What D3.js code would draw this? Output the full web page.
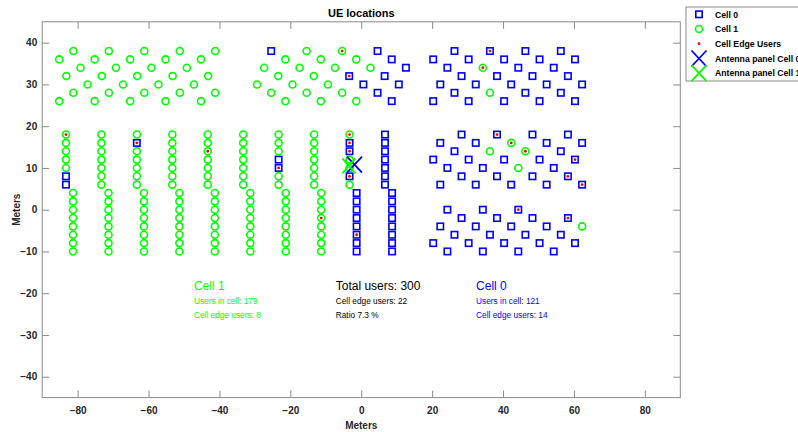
<!DOCTYPE html>
<html><head><meta charset="utf-8">
<script src="https://cdn.jsdelivr.net/npm/d3@7/dist/d3.min.js"></script>
<style>
body{margin:0;background:#fff;overflow:hidden;}
svg{display:block;font-family:"Liberation Sans",Arial,Helvetica,sans-serif;}
</style>
</head><body>
<svg id="chart" width="798" height="432"></svg>
<script>
// ---- DATA ----
const xTicks = [-80, -60, -40, -20, 0, 20, 40, 60, 80];
const yTicks = [-40, -30, -20, -10, 0, 10, 20, 30, 40];

// Cell 0 users (blue squares)
const cell0 = [
  // top middle cluster
  [-25.4,38],[4.6,38],[8.6,36],[12.6,34],[-3.4,32],[6.6,32],[0.6,30],[10.6,30],[4.6,28],[8.6,26],
  // top right cluster
  [26.3,38],[36.3,38],[46.3,38],[56.3,38],
  [20.3,36],[30.3,36],[40.3,36],[50.3,36],[60.3,36],
  [24.3,34],[44.3,34],[54.3,34],
  [28.3,32],[38.3,32],[48.3,32],[58.3,32],
  [22.3,30],[32.3,30],[42.3,30],[52.3,30],[62.3,30],
  [26.3,28],[46.3,28],[56.3,28],
  [20.3,26],[30.3,26],[40.3,26],[50.3,26],[60.3,26],
  // right upper block
  [28.3,18],[38.3,18],[48.3,18],[58.3,18],
  [22.3,16],[32.3,16],[52.3,16],[62.3,16],
  [26.3,14],[56.3,14],
  [20.3,12],[30.3,12],[40.3,12],[50.3,12],[60.3,12],
  [24.3,10],[34.3,10],[54.3,10],
  [28.3,8],[38.3,8],[48.3,8],[58.3,8],
  [22.3,6],[32.3,6],[42.3,6],[52.3,6],[62.3,6],
  // right lower block
  [24.3,0],[34.3,0],[44.3,0],
  [28.3,-2],[38.3,-2],[48.3,-2],[58.3,-2],
  [22.3,-4],[32.3,-4],[42.3,-4],[52.3,-4],
  [26.3,-6],[36.3,-6],[46.3,-6],[56.3,-6],
  [20.3,-8],[30.3,-8],[40.3,-8],[50.3,-8],[60.3,-8],
  [24.3,-10],[34.3,-10],[44.3,-10],[54.3,-10],
  // columns
  [-83.3,8],[-83.3,6],[-63.3,16],[-23.3,12],[-23.3,10],
  [-3.3,16],[-3.3,14],[-3.3,8],
  [-1.3,4],[-1.3,2],[-1.3,0],[-1.3,-2],[-1.3,-4],[-1.3,-6],[-1.3,-8],[-1.3,-10],
  [6.7,18],[6.7,16],[6.7,14],[6.7,12],[6.7,10],[6.7,8],[6.7,6],
  [8.7,4],[8.7,2],[8.7,0],[8.7,-2],[8.7,-4],[8.7,-6],[8.7,-8],[8.7,-10]
];

// Cell 1 users (green circles)
const cell1 = [
  // top left cluster
  [-81.2,38],[-71.2,38],[-61.2,38],[-51.2,38],[-41.2,38],
  [-85.2,36],[-75.2,36],[-65.2,36],[-55.2,36],[-45.2,36],
  [-79.2,34],[-69.2,34],[-59.2,34],[-49.2,34],
  [-83.2,32],[-73.2,32],[-63.2,32],[-53.2,32],[-43.2,32],
  [-77.2,30],[-67.2,30],[-57.2,30],[-47.2,30],
  [-81.2,28],[-71.2,28],[-61.2,28],[-51.2,28],[-41.2,28],
  [-85.2,26],[-75.2,26],[-65.2,26],[-55.2,26],[-45.2,26],
  // top middle cluster
  [-15.4,38],[-5.4,38],
  [-21.4,36],[-11.4,36],[-1.4,36],
  [-27.4,34],[-17.4,34],[-7.4,34],[2.6,34],
  [-23.4,32],[-13.4,32],
  [-29.4,30],[-19.4,30],[-9.4,30],
  [-25.4,28],[-15.4,28],[-5.4,28],
  [-21.4,26],[-11.4,26],[-1.4,26],
  // right side
  [34.3,34],[36.3,28],[42.3,16],[36.3,14],[46.3,14],[44.3,10],[62.3,-4],
  // columns (upper, y 18..6)
  [-83.3,18],[-83.3,16],[-83.3,14],[-83.3,12],[-83.3,10],
  [-73.3,18],[-73.3,16],[-73.3,14],[-73.3,12],[-73.3,10],[-73.3,8],[-73.3,6],
  [-63.3,18],[-63.3,14],[-63.3,12],[-63.3,10],[-63.3,8],[-63.3,6],
  [-53.3,18],[-53.3,16],[-53.3,14],[-53.3,12],[-53.3,10],[-53.3,8],[-53.3,6],
  [-43.3,18],[-43.3,16],[-43.3,14],[-43.3,12],[-43.3,10],[-43.3,8],[-43.3,6],
  [-33.3,18],[-33.3,16],[-33.3,14],[-33.3,12],[-33.3,10],[-33.3,8],[-33.3,6],
  [-23.3,18],[-23.3,16],[-23.3,14],[-23.3,8],[-23.3,6],
  [-13.3,18],[-13.3,16],[-13.3,14],[-13.3,12],[-13.3,10],[-13.3,8],[-13.3,6],
  [-3.3,18],[-3.3,12],[-3.3,10],[-3.3,6],
  // columns (lower, y 4..-10)
  [-81.3,4],[-81.3,2],[-81.3,0],[-81.3,-2],[-81.3,-4],[-81.3,-6],[-81.3,-8],[-81.3,-10],
  [-71.3,4],[-71.3,2],[-71.3,0],[-71.3,-2],[-71.3,-4],[-71.3,-6],[-71.3,-8],[-71.3,-10],
  [-61.3,4],[-61.3,2],[-61.3,0],[-61.3,-2],[-61.3,-4],[-61.3,-6],[-61.3,-8],[-61.3,-10],
  [-51.3,4],[-51.3,2],[-51.3,0],[-51.3,-2],[-51.3,-4],[-51.3,-6],[-51.3,-8],[-51.3,-10],
  [-41.3,4],[-41.3,2],[-41.3,0],[-41.3,-2],[-41.3,-4],[-41.3,-6],[-41.3,-8],[-41.3,-10],
  [-31.3,4],[-31.3,2],[-31.3,0],[-31.3,-2],[-31.3,-4],[-31.3,-6],[-31.3,-8],[-31.3,-10],
  [-21.3,4],[-21.3,2],[-21.3,0],[-21.3,-2],[-21.3,-4],[-21.3,-6],[-21.3,-8],[-21.3,-10],
  [-11.3,4],[-11.3,2],[-11.3,0],[-11.3,-2],[-11.3,-4],[-11.3,-6],[-11.3,-8],[-11.3,-10]
];

// Cell edge users (red dots)
const edgeUsers = [
  [-83.3,18],[-43.3,14],[-11.3,-2],[-3.3,18],[-5.4,38],[34.3,34],[42.3,16],[46.3,14],
  [-63.3,16],[-23.3,10],[-3.3,16],[-3.3,14],[-3.3,8],[-1.3,-6],[-3.4,32],[36.3,38],
  [38.3,18],[60.3,12],[58.3,8],[62.3,6],[44.3,0],[58.3,-2]
];

const antenna0 = [[-1.9, 10.8]];
const antenna1 = [[-3.5, 10.5]];

const legendLabels = ["Cell 0", "Cell 1", "Cell Edge Users", "Antenna panel Cell 0", "Antenna panel Cell 1"];

const statsCell1 = ["Cell 1", "Users in cell: 179", "Cell edge users: 8"];
const statsTotal = ["Total users: 300", "Cell edge users: 22", "Ratio 7.3 %"];
const statsCell0 = ["Cell 0", "Users in cell: 121", "Cell edge users: 14"];

// ---- DRAWING ----
const BLUE = "#0000ff", GREEN = "#00ff00", RED = "#ff0000", AXIS = "#8a8a8a", TXT = "#262626";
const svg = d3.select("#chart");
const x = d3.scaleLinear().domain([-90, 90]).range([42.2, 680.3]);
const y = d3.scaleLinear().domain([-45, 45]).range([397.6, 21.8]);

svg.append("rect").attr("width", 798).attr("height", 432).attr("fill", "#fff");

// axes
const gx = svg.append("g").attr("transform", `translate(0,${y(-45)})`)
  .call(d3.axisBottom(x).tickValues(xTicks).tickSizeInner(-7).tickSizeOuter(0).tickPadding(9).tickFormat(d3.format("d")));
const gy = svg.append("g").attr("transform", `translate(${x(-90)},0)`)
  .call(d3.axisLeft(y).tickValues(yTicks).tickSizeInner(-7).tickSizeOuter(0).tickPadding(5).tickFormat(d3.format("d")));
const gxt = svg.append("g").attr("transform", `translate(0,${y(45)})`)
  .call(d3.axisTop(x).tickValues(xTicks).tickSizeInner(-7).tickSizeOuter(0).tickFormat(""));
const gyr = svg.append("g").attr("transform", `translate(${x(90)},0)`)
  .call(d3.axisRight(y).tickValues(yTicks).tickSizeInner(-7).tickSizeOuter(0).tickFormat(""));
[gx, gy, gxt, gyr].forEach(g => {
  g.select(".domain").remove();
  g.selectAll(".tick line").attr("stroke", AXIS).attr("stroke-width", 1);
  g.selectAll(".tick text").attr("fill", TXT).attr("font-size", 10).attr("font-weight", "bold")
    .attr("font-family", '"Liberation Sans",Arial,sans-serif');
});
svg.append("rect").attr("x", x(-90)).attr("y", y(45))
  .attr("width", x(90) - x(-90)).attr("height", y(-45) - y(45))
  .attr("fill", "none").attr("stroke", AXIS).attr("stroke-width", 1);

// title & labels
svg.append("text").attr("x", (x(-90) + x(90)) / 2).attr("y", 17).attr("text-anchor", "middle")
  .attr("font-size", 11).attr("font-weight", "bold").attr("fill", "#000").text("UE locations");
svg.append("text").attr("x", (x(-90) + x(90)) / 2).attr("y", 429).attr("text-anchor", "middle")
  .attr("font-size", 10).attr("font-weight", "bold").attr("fill", TXT).text("Meters");
svg.append("text").attr("transform", `translate(20,${(y(-45) + y(45)) / 2}) rotate(-90)`)
  .attr("text-anchor", "middle").attr("font-size", 10).attr("font-weight", "bold").attr("fill", TXT).text("Meters");

// markers
const plot = svg.append("g");
const SQ = 6.4, CR = 3.5;
plot.selectAll("rect.c0").data(cell0).join("rect").attr("class", "c0")
  .attr("x", d => x(d[0]) - SQ / 2).attr("y", d => y(d[1]) - SQ / 2)
  .attr("width", SQ).attr("height", SQ).attr("fill", "none").attr("stroke", BLUE).attr("stroke-width", 1.6);
plot.selectAll("circle.c1").data(cell1).join("circle").attr("class", "c1")
  .attr("cx", d => x(d[0])).attr("cy", d => y(d[1])).attr("r", CR)
  .attr("fill", "none").attr("stroke", GREEN).attr("stroke-width", 1.6);
plot.selectAll("circle.edge").data(edgeUsers).join("circle").attr("class", "edge")
  .attr("cx", d => x(d[0])).attr("cy", d => y(d[1])).attr("r", 1.4).attr("fill", RED);

function xMark(g, cx, cy, hw, hh, color) {
  g.append("path").attr("d", `M${cx - hw},${cy - hh}L${cx + hw},${cy + hh}M${cx - hw},${cy + hh}L${cx + hw},${cy - hh}`)
    .attr("stroke", color).attr("stroke-width", 1.8).attr("fill", "none");
}
antenna0.forEach(d => xMark(plot, x(d[0]), y(d[1]), 7.5, 8, BLUE));
antenna1.forEach(d => xMark(plot, x(d[0]), y(d[1]), 6.5, 7.5, GREEN));

// statistics text
function statBlock(lines, px, color) {
  svg.append("text").attr("x", px).attr("y", 290).attr("font-size", 12).attr("fill", color).text(lines[0]);
  svg.append("text").attr("x", px).attr("y", 304).attr("font-size", 8.3).attr("fill", color).text(lines[1]);
  svg.append("text").attr("x", px).attr("y", 318).attr("font-size", 8.3).attr("fill", color).text(lines[2]);
}
statBlock(statsCell1, x(-47.2), GREEN);
statBlock(statsTotal, x(-7.2), "#000");
statBlock(statsCell0, x(32.4), BLUE);

// legend
const lg = svg.append("g");
lg.append("rect").attr("x", 686).attr("y", 7).attr("width", 140).attr("height", 74)
  .attr("fill", "#fff").attr("stroke", AXIS).attr("stroke-width", 1);
const ly = [14.3, 29, 43.7, 58.5, 73.2];
const mx = 699;
lg.append("rect").attr("x", mx - 3.2).attr("y", ly[0] - 3.2).attr("width", 6.4).attr("height", 6.4)
  .attr("fill", "none").attr("stroke", BLUE).attr("stroke-width", 1.6);
lg.append("circle").attr("cx", mx).attr("cy", ly[1]).attr("r", 3.5).attr("fill", "none").attr("stroke", GREEN).attr("stroke-width", 1.6);
lg.append("circle").attr("cx", mx).attr("cy", ly[2]).attr("r", 1.4).attr("fill", RED);
xMark(lg, mx, ly[3], 7.5, 8, BLUE);
xMark(lg, mx, ly[4], 7.5, 8, GREEN);
legendLabels.forEach((t, i) => {
  lg.append("text").attr("x", 715).attr("y", ly[i] + 3.2).attr("font-size", 8.7).attr("font-weight", "bold")
    .attr("fill", "#000").text(t);
});
</script>
</body></html>
